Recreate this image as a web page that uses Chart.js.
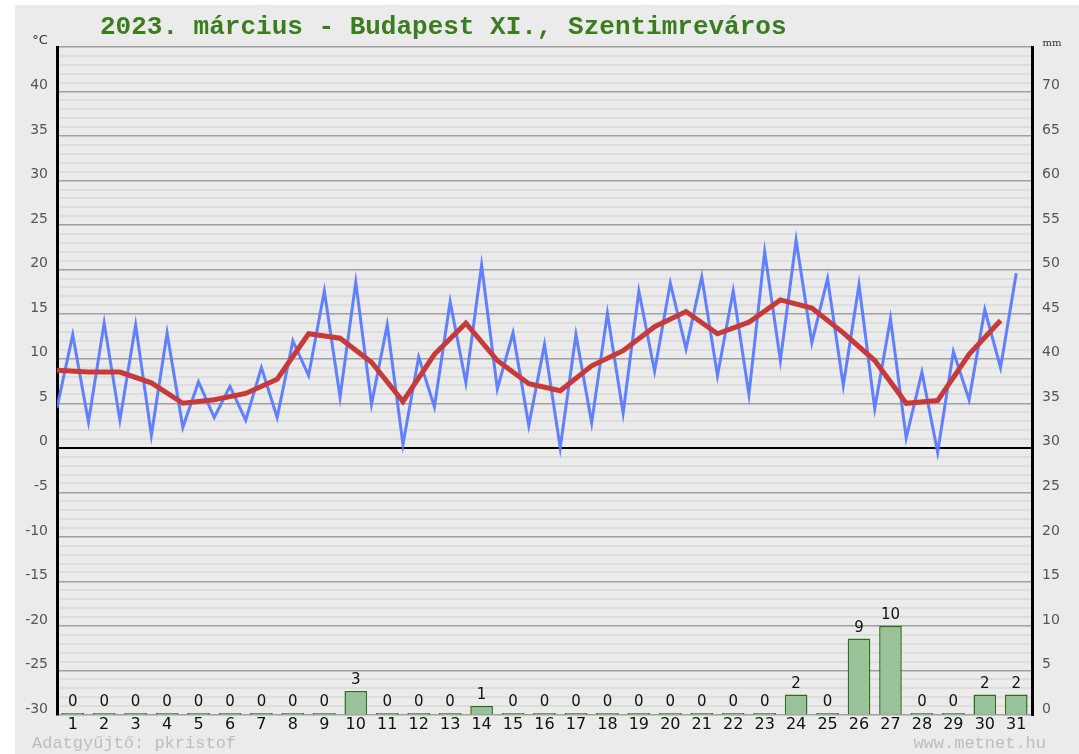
<!DOCTYPE html>
<html>
<head>
<meta charset="utf-8">
<script src="https://cdn.jsdelivr.net/npm/chart.js@4"></script>
<style>
  html, body { margin: 0; padding: 0; background: #fff; }
  #bg { position: absolute; left: 15px; top: 5px; width: 1064px; height: 749px; background: #ebebeb; }
  #wrap { position: absolute; left: 0; top: 0; width: 1079px; height: 754px; }
</style>
</head>
<body>
<div id="bg"></div>
<div id="wrap"><canvas id="chart"></canvas></div>
<script>
const TITLE = '2023. március - Budapest XI., Szentimreváros';

const days = [1, 2, 3, 4, 5, 6, 7, 8, 9, 10, 11, 12, 13, 14, 15, 16,
  17, 18, 19, 20, 21, 22, 23, 24, 25, 26, 27, 28, 29, 30, 31];

// daily minimum (drawn half a day before the day tick), daily maximum (on the tick)
const minTemps = [4.5, 2.9, 3.1, 1.4, 2.3, 3.4, 3.1, 3.4, 8.1, 5.7, 4.9, 0.4, 4.6, 7.3, 6.6, 2.5,
  0.0, 2.8, 3.9, 8.6, 11.1, 8.1, 6.0, 9.8, 11.8, 7.0, 4.4, 1.1, -0.5, 5.4, 9.0];
const maxTemps = [12.7, 14.0, 13.8, 12.9, 7.4, 6.9, 9.0, 12.0, 17.6, 18.6, 13.8, 10.2, 16.4, 20.5, 12.9, 11.6,
  12.7, 15.1, 17.6, 18.5, 19.2, 17.6, 22.0, 23.3, 19.0, 18.3, 14.5, 8.5, 10.8, 15.5, 19.6];
// daily mean
const meanTemps = [8.7, 8.5, 8.5, 7.3, 5.0, 5.4, 6.1, 7.7, 12.8, 12.3, 9.6, 5.2, 10.5, 14.0, 9.8, 7.2,
  6.4, 9.2, 10.9, 13.6, 15.3, 12.8, 14.1, 16.6, 15.7, 12.9, 9.8, 5.0, 5.3, 10.5, 14.3];
// precipitation, mm
const rainMm = [0, 0, 0, 0, 0, 0, 0, 0, 0, 2.7, 0, 0, 0, 1.0, 0, 0,
  0, 0, 0, 0, 0, 0, 0, 2.3, 0, 8.6, 10.0, 0, 0, 2.3, 2.3];

const SOURCE = 'Adatgyűjtő: pkristof';
const SITE = 'www.metnet.hu';

const tempPoints = [];
days.forEach((d, i) => {
  tempPoints.push({ x: d - 0.5, y: minTemps[i] });
  tempPoints.push({ x: d, y: maxTemps[i] });
});
const meanPoints = days.map((d, i) => ({ x: d - 0.5, y: meanTemps[i] }));
const rainPoints = days.map((d, i) => ({ x: d, y: rainMm[i] }));

const decor = {
  id: 'decor',
  afterDatasetsDraw(chart) {
    const { ctx, chartArea: a } = chart;
    const meta = chart.getDatasetMeta(2);
    ctx.save();
    ctx.font = '15px "DejaVu Sans"';
    ctx.fillStyle = '#111';
    ctx.textAlign = 'center';
    ctx.textBaseline = 'bottom';
    meta.data.forEach((bar, i) => ctx.fillText(String(Math.round(rainMm[i])), bar.x, bar.y - 3));

    ctx.font = 'bold 26px "Liberation Mono"';
    ctx.fillStyle = '#3a7d1f';
    ctx.textAlign = 'left';
    ctx.textBaseline = 'middle';
    ctx.fillText(TITLE, a.left + 43, 27);

    ctx.font = '13px "DejaVu Sans"';
    ctx.fillStyle = '#333';
    ctx.textAlign = 'center';
    ctx.fillText('°C', a.left - 17, a.top - 6);
    ctx.font = '10px "DejaVu Serif"';
    ctx.fillText('mm', a.right + 20, a.top - 4);

    ctx.font = '17px "Liberation Mono"';
    ctx.fillStyle = '#bdbdbd';
    ctx.textAlign = 'left';
    ctx.fillText(SOURCE, 32, chart.height - 11);
    ctx.textAlign = 'right';
    ctx.fillText(SITE, chart.width - 33, chart.height - 11);
    ctx.restore();
  },
};

new Chart(document.getElementById('chart'), {
  type: 'bar',
  data: {
    datasets: [
      {
        type: 'line',
        label: 'Átlag',
        data: meanPoints,
        yAxisID: 'y',
        borderColor: '#c83a3a',
        borderWidth: 5,
        pointRadius: 0,
        tension: 0,
        order: 0,
      },
      {
        type: 'line',
        label: 'Min/Max',
        data: tempPoints,
        yAxisID: 'y',
        borderColor: 'rgba(88,122,255,0.95)',
        borderWidth: 3,
        pointRadius: 0,
        tension: 0,
        order: 1,
      },
      {
        type: 'bar',
        label: 'Csapadék',
        data: rainPoints,
        yAxisID: 'y2',
        backgroundColor: '#99c29b',
        borderColor: '#2f6e16',
        borderWidth: 1.5,
        barPercentage: 0.72,
        categoryPercentage: 1,
        minBarLength: 2,
        order: 2,
      },
    ],
  },
  options: {
    responsive: true,
    maintainAspectRatio: false,
    animation: false,
    layout: { padding: { top: 47 } },
    plugins: { legend: { display: false }, tooltip: { enabled: false } },
    scales: {
      x: {
        type: 'linear',
        min: 0.5,
        max: 31.5,
        offset: false,
        grid: { display: false, drawTicks: false },
        border: { display: false },
        afterBuildTicks: (s) => { s.ticks = days.map((d) => ({ value: d })); },
        afterFit: (s) => { s.height = 39; },
        ticks: {
          autoSkip: false,
          maxRotation: 0,
          padding: 0,
          color: '#111',
          font: { family: 'DejaVu Sans', size: 16 },
          callback: (v) => String(v),
        },
      },
      y: {
        position: 'left',
        min: -30,
        max: 45,
        afterFit: (s) => { s.width = 57; },
        border: { color: '#000', width: 3 },
        grid: {
          drawTicks: false,
          color: (c) => c.tick.value === 0 ? '#000' : (c.tick.value % 5 === 0 ? '#a0a0a0' : '#dddddd'),
          lineWidth: (c) => c.tick.value === 0 ? 2 : (c.tick.value % 5 === 0 ? 1.5 : 2),
        },
        ticks: {
          stepSize: 1,
          autoSkip: false,
          padding: 9,
          labelOffset: -6,
          color: '#555',
          font: { family: 'DejaVu Sans', size: 14 },
          callback: (v) => (v % 5 === 0 && v !== 45) ? String(v) : '',
        },
      },
      y2: {
        position: 'right',
        min: 0,
        max: 75,
        afterFit: (s) => { s.width = 47; },
        border: { color: '#000', width: 3 },
        grid: { drawOnChartArea: false, drawTicks: false },
        ticks: {
          stepSize: 5,
          autoSkip: false,
          padding: 10,
          labelOffset: -6,
          color: '#555',
          font: { family: 'DejaVu Sans', size: 14 },
          callback: (v) => v === 75 ? '' : String(v),
        },
      },
    },
  },
  plugins: [decor],
});
</script>
</body>
</html>
